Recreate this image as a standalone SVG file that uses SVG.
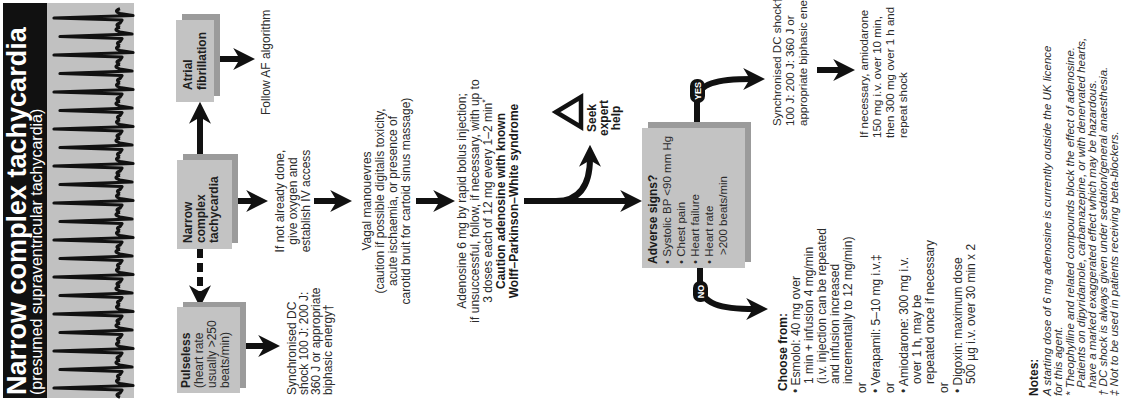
<svg xmlns="http://www.w3.org/2000/svg" xmlns:xlink="http://www.w3.org/1999/xlink" width="1124" height="401" viewBox="0 0 1124 401">
<style>
  .t{font-family:"Liberation Sans",Arial,Helvetica,sans-serif;font-size:12px;fill:#2b2b2b}
  .s{font-size:11.5px}
  .bx{font-weight:bold;fill:#1e1e1e}
  .b{font-weight:bold;fill:#1a1a1a}
  .i{font-style:italic;font-size:11.5px}
  .c{text-anchor:middle}
  .box{fill:#c3c3c3}
  .sh{fill:#9b9b9b}
  .arr{stroke:#111;stroke-width:6;fill:none;marker-end:url(#ah)}
  .pill{fill:#111}
  .pt{font-family:"Liberation Sans",Arial,sans-serif;font-size:9px;font-weight:bold;fill:#fff;text-anchor:middle}
</style>
<defs>
  <marker id="ah" markerUnits="userSpaceOnUse" viewBox="0 0 10 10" refX="4" refY="5" markerWidth="22" markerHeight="22" orient="auto">
    <path d="M0,0 L10,5 L0,10 L3,5 z" fill="#111"/>
  </marker>
  <path id="beat" d="M-9.25 0 Q-7 -6 -5 0 L-2 2 L0 -66 L2.5 13 L4.5 0 Q7 -7 9.25 0" fill="none" stroke="#111" stroke-width="3.2" stroke-linejoin="round"/>
  <path id="beat2" d="M-9.25 0 Q-7 -5 -5 0 L-2 2 L0 -60 L2.5 12 L4.5 0 Q7 -8 9.25 0" fill="none" stroke="#111" stroke-width="3.2" stroke-linejoin="round"/>
</defs>

<!-- portrait page, turned a quarter-turn anticlockwise -->
<g transform="translate(0,401) rotate(-90)">

  <g id="title">
    <rect x="3" y="3" width="395" height="44" fill="#111"/>
    <text x="6" y="26" font-family="Liberation Sans,Arial,sans-serif" font-size="27" font-weight="bold" fill="#fff">Narrow complex tachycardia</text>
    <text x="6" y="42" font-family="Liberation Sans,Arial,sans-serif" font-size="16" fill="#fff">(presumed supraventricular tachycardia)</text>
  </g>

  <g id="ecg-strip">
    <rect x="3" y="47" width="395" height="87" fill="#c1c1c1"/>
    <use xlink:href="#beat" x="13" y="120"/>
    <use xlink:href="#beat2" x="31.5" y="120"/>
    <use xlink:href="#beat" x="50" y="120"/>
    <use xlink:href="#beat2" x="68.5" y="120"/>
    <use xlink:href="#beat" x="87" y="120"/>
    <use xlink:href="#beat2" x="105.5" y="120"/>
    <use xlink:href="#beat" x="124" y="120"/>
    <use xlink:href="#beat2" x="142.5" y="120"/>
    <use xlink:href="#beat" x="161" y="120"/>
    <use xlink:href="#beat2" x="179.5" y="120"/>
    <use xlink:href="#beat" x="198" y="120"/>
    <use xlink:href="#beat2" x="216.5" y="120"/>
    <use xlink:href="#beat" x="235" y="120"/>
    <use xlink:href="#beat2" x="253.5" y="120"/>
    <use xlink:href="#beat" x="272" y="120"/>
    <use xlink:href="#beat2" x="290.5" y="120"/>
    <use xlink:href="#beat" x="309" y="120"/>
    <use xlink:href="#beat2" x="327.5" y="120"/>
    <use xlink:href="#beat" x="346" y="120"/>
    <use xlink:href="#beat2" x="364.5" y="120"/>
    <use xlink:href="#beat" x="383" y="120"/>
  </g>

  <g id="connectors">
    <line class="arr" x1="241" y1="200" x2="286" y2="200"/>
    <line class="arr" x1="152" y1="200" x2="107" y2="200" stroke-dasharray="9 5"/>
    <line class="arr" x1="342" y1="213" x2="342" y2="242"/>
    <line class="arr" x1="55" y1="240" x2="55" y2="267"/>
    <line class="arr" x1="200" y1="232" x2="200" y2="255"/>
    <line class="arr" x1="200" y1="314" x2="200" y2="339"/>
    <line class="arr" x1="200" y1="416" x2="200" y2="442"/>
    <line class="arr" x1="200" y1="524" x2="200" y2="629"/>
    <path class="arr" d="M200 556 Q200 590 243 590"/>
    <path class="arr" d="M279 697 L300 697 C318 697 322 718 322 752"/>
    <path class="arr" d="M133 700 L118 700 C96 700 92 722 92 755"/>
    <line class="arr" x1="331" y1="817" x2="331" y2="842"/>
  </g>

  <g id="pulseless">
    <rect class="sh" x="13" y="183" width="86" height="63"/>
    <rect class="box" x="8" y="177" width="86" height="63"/>
    <text class="t bx" x="13" y="190">Pulseless</text>
    <text class="t" x="13" y="203">(heart rate</text>
    <text class="t" x="13" y="216">usually &gt;250</text>
    <text class="t" x="13" y="229">beats/min)</text>
  </g>

  <g id="narrow-complex">
    <rect class="sh" x="158" y="183" width="89" height="55"/>
    <rect class="box" x="152" y="177" width="89" height="55"/>
    <text class="t bx" x="158" y="192">Narrow</text>
    <text class="t bx" x="158" y="205">complex</text>
    <text class="t bx" x="158" y="218">tachycardia</text>
  </g>

  <g id="atrial-fibrillation">
    <rect class="sh" x="305" y="182" width="82" height="38"/>
    <rect class="box" x="299" y="176" width="82" height="38"/>
    <text class="t bx" x="311" y="192">Atrial</text>
    <text class="t bx" x="311" y="206">fibrillation</text>
  </g>

  <g id="follow-af">
    <text class="t" x="286" y="270">Follow AF algorithm</text>
  </g>

  <g id="sync-shock-pulseless">
    <text class="t" x="6" y="296">Synchronised DC</text>
    <text class="t" x="6" y="308">shock 100 J: 200 J:</text>
    <text class="t" x="6" y="320">360 J or appropriate</text>
    <text class="t" x="6" y="332">biphasic energy†</text>
  </g>

  <g id="oxygen-iv">
    <text class="t c" x="200" y="284">If not already done,</text>
    <text class="t c" x="200" y="297">give oxygen and</text>
    <text class="t c" x="200" y="310">establish IV access</text>
  </g>

  <g id="vagal">
    <text class="t c" x="200" y="371">Vagal manouevres</text>
    <text class="t c" x="200" y="384">(caution if possible digitalis toxicity,</text>
    <text class="t c" x="200" y="397">acute ischaemia, or presence of</text>
    <text class="t c" x="200" y="410">carotid bruit for cartoid sinus massage)</text>
  </g>

  <g id="adenosine">
    <text class="t c" x="200" y="466">Adenosine 6 mg by rapid bolus injection;</text>
    <text class="t c" x="200" y="479">if unsuccessful, follow, if necessary, with up to</text>
    <text class="t c" x="200" y="492">3 doses each of 12 mg every 1–2 min<tspan font-size="9" dy="-4">*</tspan></text>
    <text class="t c b" x="200" y="505">Caution adenosine with known</text>
    <text class="t c b" x="200" y="518">Wolff–Parkinson–White syndrome</text>
  </g>

  <g id="seek-help">
    <polygon points="289,556 274,581 304,581" fill="none" stroke="#111" stroke-width="4.5" stroke-linejoin="miter"/>
    <text class="t c b" x="283" y="596">Seek</text>
    <text class="t c b" x="283" y="608">expert</text>
    <text class="t c b" x="283" y="620">help</text>
  </g>

  <g id="adverse-signs">
    <rect class="sh" x="139" y="648" width="140" height="103"/>
    <rect class="box" x="133" y="642" width="140" height="103"/>
    <text class="t b" x="137" y="657">Adverse signs?</text>
    <text class="t s" x="137" y="671">• Systolic BP &lt;90 mm Hg</text>
    <text class="t s" x="137" y="685">• Chest pain</text>
    <text class="t s" x="137" y="699">• Heart failure</text>
    <text class="t s" x="137" y="713">• Heart rate</text>
    <text class="t s" x="146" y="727">&gt;200 beats/min</text>
  </g>

  <g id="yes-label">
    <rect class="pill" x="298" y="690" width="24" height="15" rx="7"/>
    <text class="pt" x="310" y="701">YES</text>
  </g>

  <g id="no-label">
    <rect class="pill" x="99" y="693" width="21" height="15" rx="7"/>
    <text class="pt" x="109.5" y="704">NO</text>
  </g>

  <g id="sync-shock-unstable">
    <text class="t s" x="275" y="781">Synchronised DC shock†</text>
    <text class="t s" x="275" y="794">100 J: 200 J: 360 J or</text>
    <text class="t s" x="275" y="807">appropriate biphasic energy</text>
  </g>

  <g id="amiodarone-shock">
    <text class="t s" x="263" y="868">If necessary, amiodarone</text>
    <text class="t s" x="263" y="881">150 mg i.v. over 10 min,</text>
    <text class="t s" x="263" y="894">then 300 mg over 1 h and</text>
    <text class="t s" x="263" y="907">repeat shock</text>
  </g>

  <g id="drug-choices">
    <text class="t b" x="10" y="787">Choose from:</text>
    <text class="t" x="8" y="800">• Esmolol: 40 mg over</text>
    <text class="t" x="17" y="813">1 min + infusion 4 mg/min</text>
    <text class="t" x="17" y="826">(i.v. injection can be repeated</text>
    <text class="t" x="17" y="839">and infusion increased</text>
    <text class="t" x="17" y="852">incrementally to 12 mg/min)</text>
    <text class="t" x="8" y="866">or</text>
    <text class="t" x="8" y="880">• Verapamil: 5–10 mg i.v.‡</text>
    <text class="t" x="8" y="894">or</text>
    <text class="t" x="8" y="908">• Amiodarone: 300 mg i.v.</text>
    <text class="t" x="17" y="921">over 1 h, may be</text>
    <text class="t" x="17" y="934">repeated once if necessary</text>
    <text class="t" x="8" y="948">or</text>
    <text class="t" x="8" y="962">• Digoxin: maximum dose</text>
    <text class="t" x="17" y="975">500 µg i.v. over 30 min x 2</text>
  </g>

  <g id="notes">
    <text class="t b" x="5" y="1038">Notes:</text>
    <text class="t i" x="5" y="1051">A starting dose of 6 mg adenosine is currently outside the UK licence</text>
    <text class="t i" x="5" y="1062">for this agent.</text>
    <text class="t i" x="5" y="1074">* Theophylline and related compounds block the effect of adenosine.</text>
    <text class="t i" x="13" y="1085">Patients on dipyridamole, carbamazepine, or with denervated hearts,</text>
    <text class="t i" x="13" y="1096">have a marked exaggerated effect which may be hazardous.</text>
    <text class="t i" x="5" y="1107">† DC shock is always given under sedation/general anaesthesia.</text>
    <text class="t i" x="5" y="1118">‡ Not to be used in patients receiving beta-blockers.</text>
  </g>
</g>
</svg>
